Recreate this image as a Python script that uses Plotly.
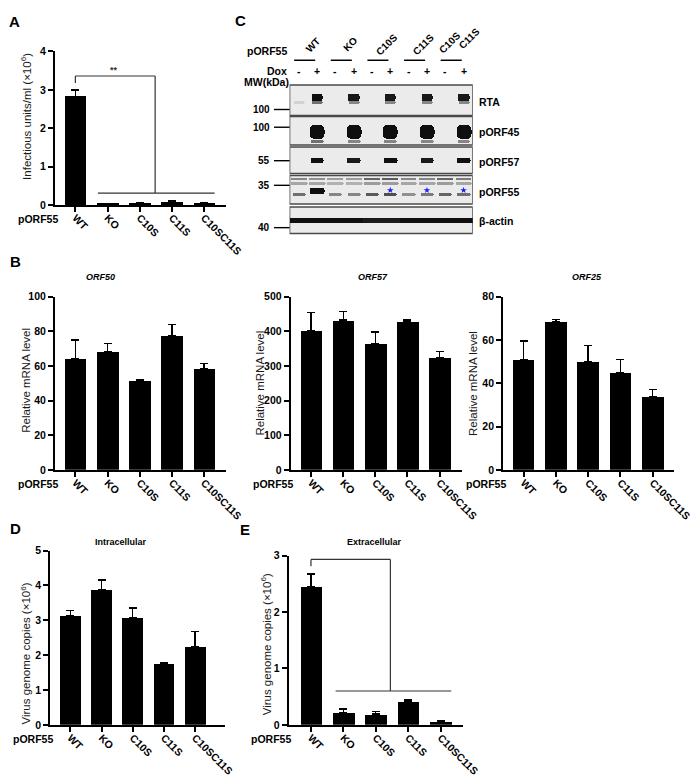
import plotly.graph_objects as go

W, H = 700, 778
FONT = "Liberation Sans, Arial, sans-serif"

GENOTYPES = ["WT", "KO", "C10S", "C11S", "C10SC11S"]

# A: infectious units/ml (x10^6)
INFECT_MEAN = [2.82, 0.03, 0.04, 0.08, 0.04]
INFECT_ERR = [0.17, 0.01, 0.01, 0.02, 0.01]

# B: relative mRNA levels
ORF50_MEAN = [64, 68, 51.5, 77.5, 58.5]
ORF50_ERR = [11, 5, 0.6, 6.5, 3]
ORF57_MEAN = [402, 432, 364, 429, 324]
ORF57_ERR = [52, 25, 34, 5, 17]
ORF25_MEAN = [51, 68.5, 50, 45, 34]
ORF25_ERR = [8.5, 1, 7.5, 6, 3]

# D / E: virus genome copies (x10^6)
INTRA_MEAN = [3.13, 3.88, 3.08, 1.75, 2.25]
INTRA_ERR = [0.15, 0.28, 0.27, 0.02, 0.43]
EXTRA_MEAN = [2.45, 0.21, 0.19, 0.42, 0.06]
EXTRA_ERR = [0.22, 0.07, 0.05, 0.03, 0.02]

# C: western blot
BLOT_GENOTYPES = ["WT", "KO", "C10S", "C11S", "C10S|C11S"]
DOX = ["-", "+"] * 5
BLOT_PROTEINS = ["RTA", "pORF45", "pORF57", "pORF55", "β-actin"]
MW_LABELS = ["100", "100", "55", "35", "40"]
STAR_LANES = [5, 7, 9]
# band intensities per lane (0 = nothing, 1 = black)
RTA_BAND = [0, 1, 0, 0.95, 0, 0.95, 0, 0.95, 0, 0.95]
RTA_SMEAR = [0.1, 0.55, 0, 0.45, 0, 0.45, 0, 0.45, 0, 0.45]
ORF45_BAND = [0, 1, 0, 1, 0, 1, 0, 1, 0, 1]
ORF45_LOWER = [0, 0.55, 0, 0.45, 0, 0.45, 0, 0.45, 0, 0.45]
ORF57_BAND = [0, 1, 0, 0.95, 0, 1, 0, 0.95, 0, 1]
ORF55_TOP = [0.45, 0.4, 0.35, 0.35, 0.6, 0.65, 0.45, 0.45, 0.6, 0.5]
ORF55_MID = [0.3, 0.3, 0.25, 0.25, 0.35, 0.35, 0.3, 0.3, 0.35, 0.3]
ORF55_SPECIFIC = [0, 1, 0, 0, 0, 0, 0, 0, 0, 0]
ORF55_LOW = [0.55, 0, 0.45, 0.45, 0.65, 0.7, 0.4, 0.5, 0.6, 0.55]
ACTIN_BAND = [1, 1, 1, 1, 0.95, 0.95, 1, 1, 1, 1]

BLOT_X0, BLOT_X1 = 289, 477  # px extent of blot lanes


def px_x(p):
    return p / W


def px_y(p):
    return 1 - p / H


def lane_px(lane):
    return BLOT_X0 + (lane + 0.5) * (BLOT_X1 - BLOT_X0) / len(DOX)


def gray(i):
    v = int(232 - i * 217)
    return f"rgb({v},{v},{v})"


fig = go.Figure()
annotations = []
shapes = []


def add_bar_panel(n, means, errs, x0, x1, y0, y1, xrange, ymax, dtick):
    xa = "x" if n == 1 else f"x{n}"
    ya = "y" if n == 1 else f"y{n}"
    fig.add_trace(go.Bar(
        x=GENOTYPES, y=means, width=0.67, xaxis=xa, yaxis=ya,
        marker=dict(color="black", line=dict(width=0)),
        error_y=dict(type="data", array=errs, arrayminus=[0] * len(errs),
                     symmetric=False, color="black", thickness=1.4, width=4),
        showlegend=False,
    ))
    axis_common = dict(showline=True, linecolor="black", linewidth=1.6, ticks="outside",
                       ticklen=5, tickwidth=1.6, tickcolor="black", showgrid=False,
                       zeroline=False, tickfont=dict(family=FONT, size=10.5, color="black", weight="bold"))
    fig.layout[("xaxis" if n == 1 else f"xaxis{n}")] = dict(
        domain=[px_x(x0), px_x(x1)], anchor=ya, range=xrange, type="category",
        tickangle=45, ticklabelstandoff=-4, **axis_common)
    fig.layout[("yaxis" if n == 1 else f"yaxis{n}")] = dict(
        domain=[px_y(y1), px_y(y0)], anchor=xa, range=[0, ymax], dtick=dtick, **axis_common)
    annotations.append(dict(text="pORF55", xref="paper", yref="paper",
                            x=px_x(x0 + 5), y=px_y(y1 + 14), xanchor="right", yanchor="middle",
                            showarrow=False, font=dict(family=FONT, size=10.5, weight="bold")))


add_bar_panel(1, INFECT_MEAN, INFECT_ERR, 48, 224, 38, 194, [-0.64, 4.69], 4, 1)
add_bar_panel(2, ORF50_MEAN, ORF50_ERR, 48, 224, 287, 463, [-0.64, 4.69], 100, 20)
add_bar_panel(3, ORF57_MEAN, ORF57_ERR, 290, 466, 287, 463, [-0.64, 4.7], 500, 100)
add_bar_panel(4, ORF25_MEAN, ORF25_ERR, 508, 684, 287, 463, [-0.64, 4.67], 80, 20)
add_bar_panel(5, INTRA_MEAN, INTRA_ERR, 43, 223, 545, 722, [-0.66, 4.97], 5, 1)
add_bar_panel(6, EXTRA_MEAN, EXTRA_ERR, 288, 467, 550, 722, [-0.69, 4.69], 3, 1)


# significance brackets
def bracket(xa, ya, top, left_low, right_x, low, low_x0, low_x1, stars, star_x, star_y):
    line = dict(color="#333333", width=1.2)
    for (a, b, c, d) in [(0, top, right_x, top), (0, top, 0, left_low),
                         (right_x, top, right_x, low), (low_x0, low, low_x1, low)]:
        shapes.append(dict(type="line", xref=xa, yref=ya, x0=a, y0=b, x1=c, y1=d, line=line))
    annotations.append(dict(text=stars, xref=xa, yref=ya, x=star_x, y=star_y, showarrow=False,
                            font=dict(family=FONT, size=9, color="#333333", weight="bold")))


bracket("x", "y", 3.36, 3.18, 2.48, 0.31, 0.70, 4.33, "**", 1.2, 3.52)
bracket("x6", "y6", 2.93, 2.81, 2.45, 0.6, 0.76, 4.33, "***", 1.23, 3.02)


# axis titles
def vtitle(t, x, y):
    annotations.append(dict(text=t, xref="paper", yref="paper", x=px_x(x), y=px_y(y),
                            xanchor="center", yanchor="middle", textangle=-90, showarrow=False,
                            font=dict(family=FONT, size=11.5, color="#1a1a1a")))


vtitle("Infectious units/ml (×10<sup>6</sup>)", 19, 104)
vtitle("Relative mRNA level", 19, 372)
vtitle("Relative mRNA level", 259, 375)
vtitle("Relative mRNA level", 477, 375)
vtitle("Virus genome copies (×10<sup>6</sup>)", 18, 650)
vtitle("Virus genome copies (×10<sup>6</sup>)", 265, 640)


def text(t, x, y, size=10.5, xanchor="center", italic=False, angle=0):
    annotations.append(dict(text=f"<i>{t}</i>" if italic else t, xref="paper", yref="paper",
                            x=px_x(x), y=px_y(y), xanchor=xanchor, yanchor="middle",
                            showarrow=False, textangle=angle,
                            font=dict(family=FONT, size=size, color="black", weight="bold")))


text("ORF50", 95, 267, size=9, italic=True)
text("ORF57", 375, 267, size=9, italic=True)
text("ORF25", 594, 267, size=9, italic=True)
text("Intracellular", 116, 536, size=9)
text("Extracellular", 376, 536, size=9)

for letter, x, y in [("A", 7, 8), ("B", 8, 251), ("C", 239, 7), ("D", 8, 523), ("E", 243, 524)]:
    text(letter, x, y, size=15)

# ---- panel C: western blot ----
fig.layout["xaxis7"] = dict(domain=[px_x(BLOT_X0), px_x(BLOT_X1)], range=[-0.5, 9.5],
                            visible=False, anchor="y7", fixedrange=True)
fig.layout["yaxis7"] = dict(domain=[px_y(226), px_y(70)], range=[226, 70], visible=False,
                            anchor="x7", fixedrange=True)

ROW_BOXES = [(72, 103), (104, 133), (135, 162), (164, 193), (196, 223)]
for top, bottom in ROW_BOXES:
    shapes.append(dict(type="rect", xref="x7", yref="y7", x0=-0.5, x1=9.5, y0=top, y1=bottom,
                       fillcolor="#ebebeb", line=dict(color="#4a4a4a", width=1.5), layer="below"))

lanes = list(range(len(DOX)))
BANDS = [
    (RTA_BAND, 81, 7, 0.62, 2),
    (RTA_SMEAR, 88, 3, 0.6, 1),
    (ORF45_BAND, 113, 14, 0.82, 5),
    (ORF45_LOWER, 128, 2.5, 0.7, 1),
    (ORF57_BAND, 146, 5, 0.75, 2),
    (ORF55_TOP, 166, 3, 0.92, 1),
    (ORF55_MID, 171, 3, 0.92, 1),
    (ORF55_SPECIFIC, 177, 6, 0.8, 2),
    (ORF55_LOW, 182, 3, 0.72, 1),
    (ACTIN_BAND, 207, 5, 1.0, 0),
]
for inten, top, h, w, rad in BANDS:
    xs = [l for l in lanes if inten[l] > 0]
    fig.add_trace(go.Bar(
        x=xs, y=[h] * len(xs), base=[top] * len(xs), width=w, xaxis="x7", yaxis="y7",
        marker=dict(color=[gray(inten[l]) for l in xs], line=dict(width=0), cornerradius=rad),
        showlegend=False, hoverinfo="skip",
    ))

fig.add_trace(go.Scatter(
    x=STAR_LANES, y=[179] * len(STAR_LANES), mode="markers", xaxis="x7", yaxis="y7",
    marker=dict(symbol="star", size=5, color="#1a1aff"), showlegend=False, hoverinfo="skip",
))

# lane headers
text("pORF55", 288, 38, xanchor="right")
text("Dox", 288, 58, xanchor="right")
text("MW(kDa)", 290, 69, xanchor="right")
for lane, sign in enumerate(DOX):
    text(sign, lane_px(lane), 58, size=10.5)
for k, g in enumerate(BLOT_GENOTYPES):
    parts = g.split("|")
    if len(parts) == 1:
        text(parts[0], lane_px(2 * k + 0.8), 31, size=10, angle=-45)
    else:
        text(parts[0], lane_px(2 * k + 0.25), 29, size=10, angle=-45)
        text(parts[1], lane_px(2 * k + 1.3), 25, size=10, angle=-45)
    shapes.append(dict(type="line", xref="paper", yref="paper",
                       x0=px_x(lane_px(2 * k - 0.25)), x1=px_x(lane_px(2 * k + 0.9)),
                       y0=px_y(47), y1=px_y(47), line=dict(color="black", width=1.5)))

for lab, y in zip(MW_LABELS, [97, 115, 149, 174, 217]):
    text(lab, 271, y, size=10, xanchor="right")
    shapes.append(dict(type="line", xref="paper", yref="paper", x0=px_x(273), x1=px_x(289),
                       y0=px_y(y), y1=px_y(y), line=dict(color="black", width=1.4)))

for prot, y in zip(BLOT_PROTEINS, [89, 120, 150, 181, 210]):
    text(prot, 481, y, size=10.5, xanchor="left")

fig.update_layout(
    width=W, height=H, margin=dict(l=0, r=0, t=0, b=0),
    paper_bgcolor="white", plot_bgcolor="white",
    barmode="overlay", bargap=0,
    annotations=annotations, shapes=shapes,
    font=dict(family=FONT, color="black"),
)

fig.write_html("out.html")
